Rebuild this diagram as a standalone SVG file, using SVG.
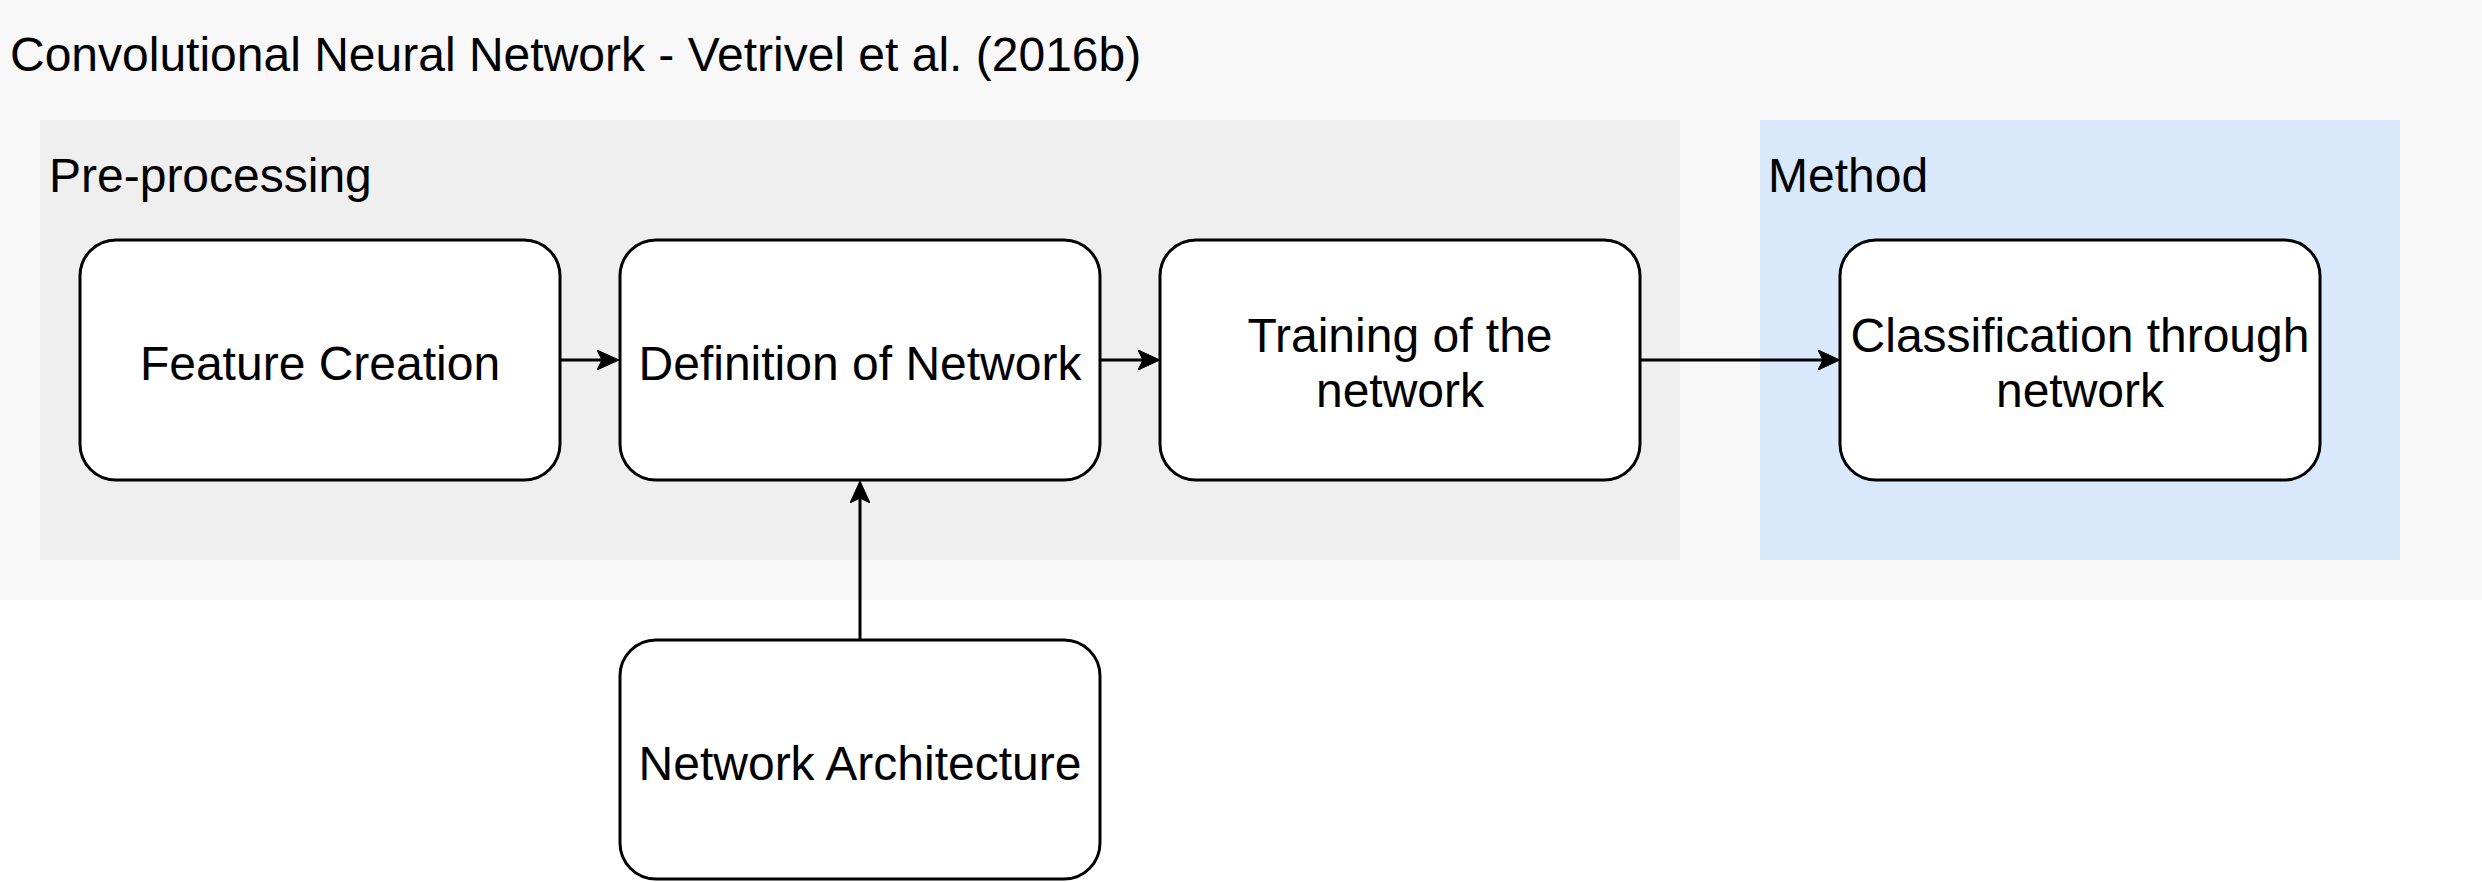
<svg xmlns="http://www.w3.org/2000/svg" width="2482" height="882" viewBox="0 0 2482 882">
  <style>
    .t { font-family: "Liberation Sans", Arial, Helvetica, sans-serif; font-size: 48px; fill: #000000; }
    .c { text-anchor: middle; }
    .box { fill: #ffffff; stroke: #000000; stroke-width: 3; }
    .edge { fill: none; stroke: #000000; stroke-width: 3; marker-end: url(#arrow); }
  </style>
  <defs>
    <marker id="arrow" markerUnits="userSpaceOnUse" viewBox="0 0 22 20" refX="5" refY="10" markerWidth="22" markerHeight="20" orient="auto">
      <path d="M22,10 L0,0 L5,10 L0,20 Z" fill="#000000" stroke="#000000" stroke-width="1"/>
    </marker>
  </defs>

  <rect width="2482" height="882" fill="#ffffff"/>

  <g id="outer-container">
    <rect x="0" y="0" width="2482" height="600" fill="#f8f8f8"/>
    <text class="t" x="10" y="71">Convolutional Neural Network - Vetrivel et al. (2016b)</text>
  </g>

  <g id="preprocessing-group">
    <rect x="40" y="120" width="1640" height="440" fill="#efefef"/>
    <text class="t" x="49" y="192">Pre-processing</text>
  </g>

  <g id="method-group">
    <rect x="1760" y="120" width="640" height="440" fill="#dae8fc"/>
    <text class="t" x="1768" y="192">Method</text>
  </g>

  <g id="feature-creation">
    <rect class="box" x="80" y="240" width="480" height="240" rx="36" ry="36"/>
    <text class="t c" x="320" y="380">Feature Creation</text>
  </g>

  <g id="definition-of-network">
    <rect class="box" x="620" y="240" width="480" height="240" rx="36" ry="36"/>
    <text class="t c" x="860" y="380">Definition of Network</text>
  </g>

  <g id="training-of-the-network">
    <rect class="box" x="1160" y="240" width="480" height="240" rx="36" ry="36"/>
    <text class="t c" x="1400" y="352">Training of the</text>
    <text class="t c" x="1400" y="407">network</text>
  </g>

  <g id="classification-through-network">
    <rect class="box" x="1840" y="240" width="480" height="240" rx="36" ry="36"/>
    <text class="t c" x="2080" y="352">Classification through</text>
    <text class="t c" x="2080" y="407">network</text>
  </g>

  <g id="network-architecture">
    <rect class="box" x="620" y="640" width="480" height="239" rx="36" ry="36"/>
    <text class="t c" x="860" y="780">Network Architecture</text>
  </g>

  <g id="connectors">
    <path class="edge" d="M560,360 L602,360"/>
    <path class="edge" d="M1100,360 L1143,360"/>
    <path class="edge" d="M1640,360 L1823,360"/>
    <path class="edge" d="M860,640 L860,498"/>
  </g>
</svg>
